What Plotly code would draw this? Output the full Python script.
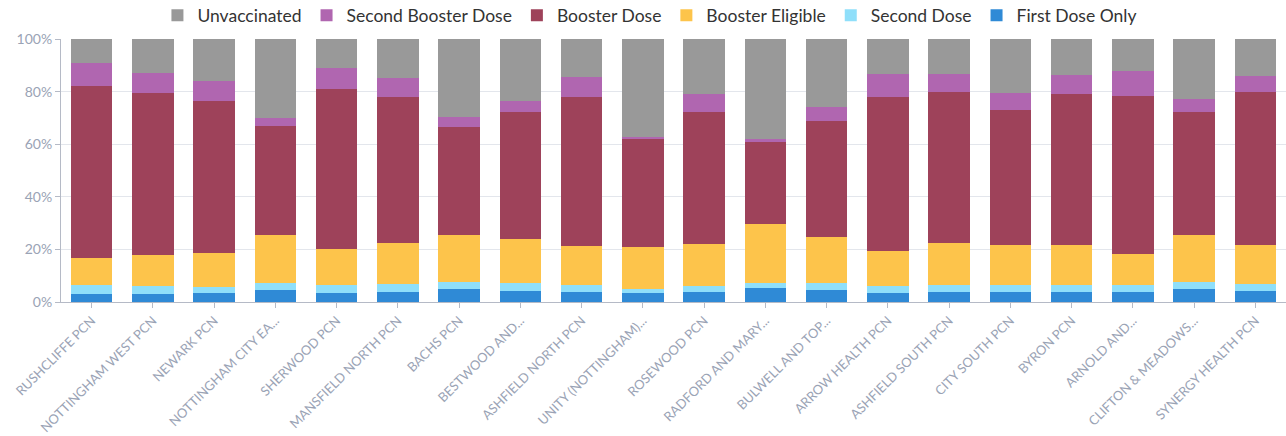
import plotly.graph_objects as go

categories = ["RUSHCLIFFE PCN", "NOTTINGHAM WEST PCN", "NEWARK PCN", "NOTTINGHAM CITY EA...",
              "SHERWOOD PCN", "MANSFIELD NORTH PCN", "BACHS PCN", "BESTWOOD AND...",
              "ASHFIELD NORTH PCN", "UNITY (NOTTINGHAM)...", "ROSEWOOD PCN", "RADFORD AND MARY...",
              "BULWELL AND TOP...", "ARROW HEALTH PCN", "ASHFIELD SOUTH PCN", "CITY SOUTH PCN",
              "BYRON PCN", "ARNOLD AND...", "CLIFTON & MEADOWS...", "SYNERGY HEALTH PCN"]

# cumulative tops (%)
first_dose_top = [2.9, 3.2, 3.3, 4.7, 3.5, 3.8, 5.1, 4.3, 3.7, 3.5, 3.7, 5.3, 4.4, 3.3, 3.7, 3.7, 3.7, 3.7, 5.1, 4.0]
second_dose_top = [6.4, 6.1, 5.8, 7.1, 6.3, 6.7, 7.6, 7.1, 6.4, 4.8, 6.2, 7.3, 7.2, 6.2, 6.3, 6.4, 6.6, 6.6, 7.5, 7.0]
booster_elig_top = [16.9, 18.0, 18.6, 25.5, 20.0, 22.6, 25.4, 23.9, 21.2, 20.9, 22.0, 29.8, 24.8, 19.3, 22.5, 21.6, 21.5, 18.3, 25.3, 21.5]
booster_top = [82.3, 79.4, 76.5, 67.0, 80.9, 78.1, 66.6, 72.3, 78.0, 62.3, 72.3, 60.8, 68.8, 78.0, 80.0, 73.1, 79.1, 78.5, 72.2, 80.0]
second_booster_top = [90.8, 86.9, 84.2, 69.9, 89.0, 85.2, 70.3, 76.5, 85.7, 62.6, 79.0, 61.9, 74.2, 86.7, 86.7, 79.6, 86.5, 88.0, 77.2, 86.0]

first_dose = [round(a, 1) for a in first_dose_top]
second_dose = [round(b - a, 1) for a, b in zip(first_dose_top, second_dose_top)]
booster_eligible = [round(b - a, 1) for a, b in zip(second_dose_top, booster_elig_top)]
booster_dose = [round(b - a, 1) for a, b in zip(booster_elig_top, booster_top)]
second_booster = [round(b - a, 1) for a, b in zip(booster_top, second_booster_top)]
unvaccinated = [round(100 - a, 1) for a in second_booster_top]

series = [
    ("First Dose Only", first_dose, "#2f8ad6"),
    ("Second Dose", second_dose, "#8fdffa"),
    ("Booster Eligible", booster_eligible, "#fdc44b"),
    ("Booster Dose", booster_dose, "#9e425a"),
    ("Second Booster Dose", second_booster, "#b066b0"),
    ("Unvaccinated", unvaccinated, "#999999"),
]

fig = go.Figure()
for name, vals, color in series:
    fig.add_trace(go.Bar(name=name, x=categories, y=vals, marker=dict(color=color, line=dict(width=0))))

font_family = "Lato, 'Open Sans', sans-serif"
fig.update_layout(
    barmode="stack",
    bargap=0.32,
    width=1286, height=436,
    margin=dict(l=61, r=0, t=39, b=134, autoexpand=False),
    paper_bgcolor="white", plot_bgcolor="white",
    font=dict(family=font_family, size=13, color="#9aa3b5"),
    legend=dict(orientation="h", traceorder="reversed", xref="container", x=0.505, xanchor="center",
                yref="container", y=0.965, yanchor="middle",
                font=dict(size=17.5, color="#333333"), itemwidth=30),
    showlegend=True,
)
fig.update_xaxes(showline=True, linecolor="#b5bac6", linewidth=1, ticks="outside", ticklen=5,
                 tickcolor="#b5bac6", tickangle=-45, tickfont=dict(size=13, color="#9aa3b5"),
                 range=[-0.5, 19.5], automargin=False)
fig.update_yaxes(range=[0, 100], dtick=20, ticksuffix="%", showline=True, linecolor="#b5bac6",
                 ticks="outside", ticklen=5, tickcolor="#b5bac6", gridcolor="#e3e6ec",
                 tickfont=dict(size=14, color="#9aa3b5"), zeroline=False, automargin=False)

fig.write_html("out.html", config={"displayModeBar": False},
               post_script="document.body.style.margin='0px';")
